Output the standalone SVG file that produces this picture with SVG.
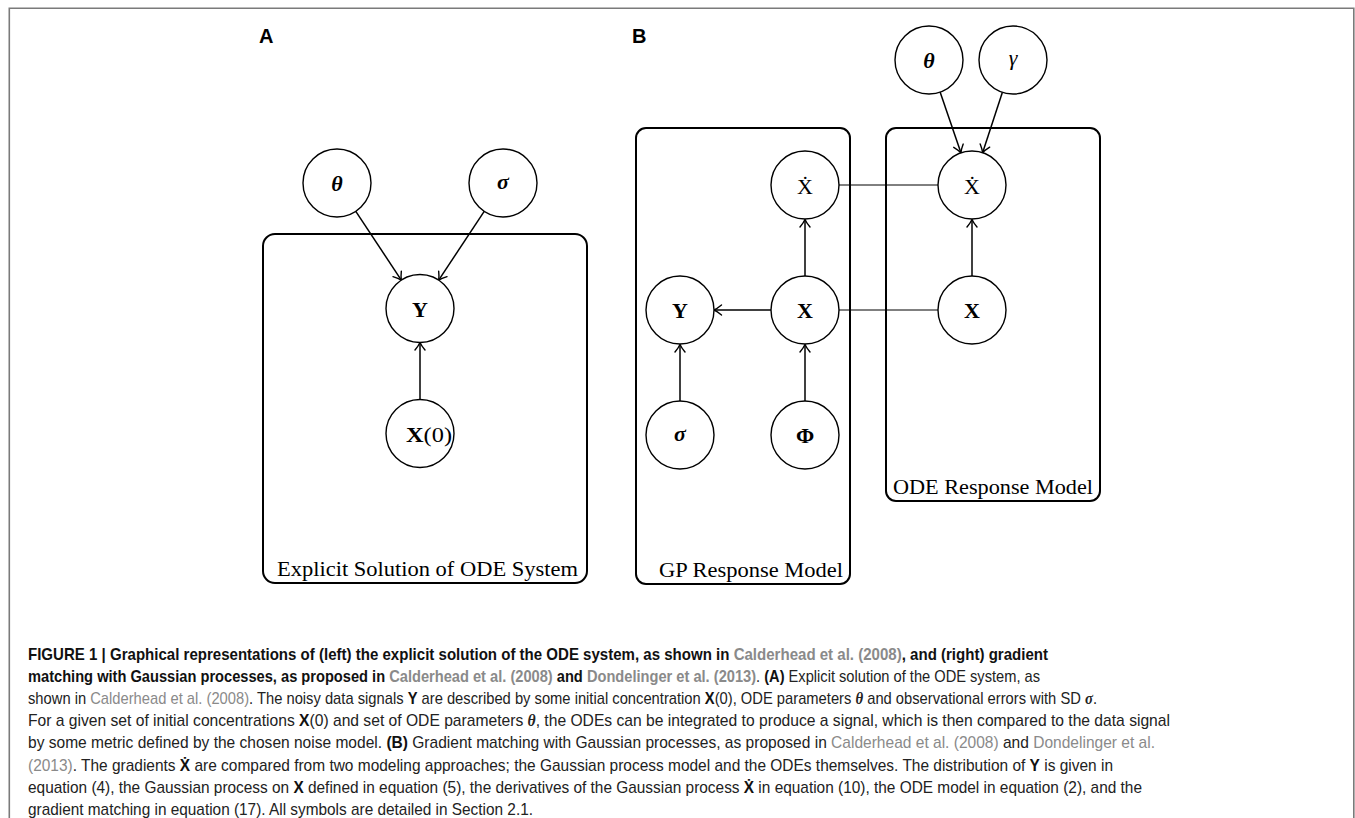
<svg xmlns="http://www.w3.org/2000/svg" width="1355" height="818" viewBox="0 0 1355 818">
<style>
.frame{stroke:#7a7a7a;stroke-width:1.6;fill:none}
.plate{fill:none;stroke:#000;stroke-width:2}
.node{fill:#fff;stroke:#000;stroke-width:1.4}
.edge{stroke:#000;stroke-width:1.5;fill:none}
.link{stroke:#000;stroke-width:1;fill:none}
.lbl{font-family:"Liberation Serif","DejaVu Serif",serif;font-size:22px;text-anchor:middle;fill:#000}
.b{font-weight:bold}
.i{font-style:italic}
.plab{font-family:"Liberation Serif","DejaVu Serif",serif;font-size:21px;fill:#000}
.panel{font-family:"Liberation Sans",Arial,sans-serif;font-size:20px;font-weight:bold;fill:#000}
.cap{font-family:"Liberation Sans",Arial,sans-serif;font-size:17px;fill:#222}
.cb{font-weight:bold;fill:#111}
.cl{fill:#8a8a8a}
.m{font-family:"Liberation Serif","DejaVu Serif",serif;font-weight:bold;font-style:italic}
</style>
<defs>
<marker id="arr" viewBox="-9 -6 11 12" refX="0" refY="0" markerWidth="11" markerHeight="12" markerUnits="userSpaceOnUse" orient="auto">
<path d="M-7.5,-5 Q-3,-1.3 0,0 Q-3,1.3 -7.5,5" fill="none" stroke="#000" stroke-width="1.4" stroke-linecap="round"/>
</marker>
</defs>
<rect width="1355" height="818" fill="#fff"/>
<path class="frame" d="M9.3,818 V8.3 H1353.8 V818"/>

<text class="panel" x="259" y="43">A</text>
<text class="panel" x="632" y="43">B</text>

<g id="plate-explicit">
<rect class="plate" x="263" y="234" width="324" height="349" rx="12"/>
<text class="plab" x="277" y="576" textLength="301" lengthAdjust="spacingAndGlyphs">Explicit Solution of ODE System</text>
</g>
<g id="plate-gp">
<rect class="plate" x="636" y="128" width="214" height="456" rx="10"/>
<text class="plab" x="659" y="577" textLength="184" lengthAdjust="spacingAndGlyphs">GP Response Model</text>
</g>
<g id="plate-ode">
<rect class="plate" x="886" y="128" width="214" height="373" rx="10"/>
<text class="plab" x="893" y="494" textLength="200" lengthAdjust="spacingAndGlyphs">ODE Response Model</text>
</g>

<g id="connectors">
<line class="edge" x1="355.8" y1="211.4" x2="401.3" y2="280.1" marker-end="url(#arr)"/>
<line class="edge" x1="484.2" y1="211.4" x2="438.7" y2="280.1" marker-end="url(#arr)"/>
<line class="edge" x1="420" y1="400" x2="420" y2="342.5" marker-end="url(#arr)"/>
<line class="edge" x1="940.1" y1="92.1" x2="960.9" y2="152.8" marker-end="url(#arr)"/>
<line class="edge" x1="1002.4" y1="92.3" x2="982.6" y2="152.7" marker-end="url(#arr)"/>
<line class="link" x1="839" y1="185" x2="938" y2="185"/>
<line class="link" x1="839" y1="310" x2="938" y2="310"/>
<line class="edge" x1="805" y1="276" x2="805" y2="219.5" marker-end="url(#arr)"/>
<line class="edge" x1="972" y1="276" x2="972" y2="219.5" marker-end="url(#arr)"/>
<line class="edge" x1="771" y1="310" x2="714" y2="310" marker-end="url(#arr)"/>
<line class="edge" x1="680" y1="401" x2="680" y2="344.5" marker-end="url(#arr)"/>
<line class="edge" x1="805" y1="401" x2="805" y2="344.5" marker-end="url(#arr)"/>
</g>

<g id="A-theta"><circle class="node" cx="337" cy="183" r="34"/><text class="lbl b i" x="337" y="191">θ</text></g>
<g id="A-sigma"><circle class="node" cx="503" cy="183" r="34"/><text class="lbl b i" x="503" y="189">σ</text></g>
<g id="A-Y"><circle class="node" cx="420" cy="308.5" r="34"/><text class="lbl b" x="420" y="316.5">Y</text></g>
<g id="A-X0"><circle class="node" cx="420" cy="433.5" r="34"/><text class="lbl" x="429" y="441.5" textLength="46" lengthAdjust="spacingAndGlyphs"><tspan class="b">X</tspan>(0)</text></g>

<g id="B-theta"><circle class="node" cx="929" cy="60" r="34"/><text class="lbl b i" x="929" y="68">θ</text></g>
<g id="B-gamma"><circle class="node" cx="1013" cy="60" r="34"/><text class="lbl i" x="1013" y="65">γ</text></g>
<g id="B-Xdot-gp"><circle class="node" cx="805" cy="185" r="34"/><text class="lbl" x="805" y="193.5">Ẋ</text></g>
<g id="B-Xdot-ode"><circle class="node" cx="972" cy="185" r="34"/><text class="lbl" x="972" y="193.5">Ẋ</text></g>
<g id="B-Y"><circle class="node" cx="680" cy="310" r="34"/><text class="lbl b" x="680" y="318">Y</text></g>
<g id="B-X-gp"><circle class="node" cx="805" cy="310" r="34"/><text class="lbl b" x="805" y="318">X</text></g>
<g id="B-X-ode"><circle class="node" cx="972" cy="310" r="34"/><text class="lbl b" x="972" y="318">X</text></g>
<g id="B-sigma"><circle class="node" cx="680" cy="435" r="34"/><text class="lbl b i" x="680" y="441">σ</text></g>
<g id="B-Phi"><circle class="node" cx="805" cy="435" r="34"/><text class="lbl b" x="805" y="443">Φ</text></g>

<g id="caption">
<text class="cap cb" x="28" y="660" textLength="1020" lengthAdjust="spacingAndGlyphs">FIGURE 1 | Graphical representations of (left) the explicit solution of the ODE system, as shown in <tspan class="cl">Calderhead et al. (2008)</tspan>, and (right) gradient</text>
<text class="cap" x="28" y="682.1" textLength="1012" lengthAdjust="spacingAndGlyphs"><tspan class="cb">matching with Gaussian processes, as proposed in </tspan><tspan class="cb cl">Calderhead et al. (2008)</tspan><tspan class="cb"> and </tspan><tspan class="cb cl">Dondelinger et al. (2013)</tspan>. <tspan class="cb">(A)</tspan> Explicit solution of the ODE system, as</text>
<text class="cap" x="28" y="704.2" textLength="1069" lengthAdjust="spacingAndGlyphs">shown in <tspan class="cl">Calderhead et al. (2008)</tspan>. The noisy data signals <tspan class="cb">Y</tspan> are described by some initial concentration <tspan class="cb">X</tspan>(0), ODE parameters <tspan class="m">θ</tspan> and observational errors with SD <tspan class="m">σ</tspan>.</text>
<text class="cap" x="28" y="726.3" textLength="1142" lengthAdjust="spacingAndGlyphs">For a given set of initial concentrations <tspan class="cb">X</tspan>(0) and set of ODE parameters <tspan class="m">θ</tspan>, the ODEs can be integrated to produce a signal, which is then compared to the data signal</text>
<text class="cap" x="28" y="748.4" textLength="1127" lengthAdjust="spacingAndGlyphs">by some metric defined by the chosen noise model. <tspan class="cb">(B)</tspan> Gradient matching with Gaussian processes, as proposed in <tspan class="cl">Calderhead et al. (2008)</tspan> and <tspan class="cl">Dondelinger et al.</tspan></text>
<text class="cap" x="28" y="770.5" textLength="1085" lengthAdjust="spacingAndGlyphs"><tspan class="cl">(2013)</tspan>. The gradients <tspan class="cb">Ẋ</tspan> are compared from two modeling approaches; the Gaussian process model and the ODEs themselves. The distribution of <tspan class="cb">Y</tspan> is given in</text>
<text class="cap" x="28" y="792.6" textLength="1114" lengthAdjust="spacingAndGlyphs">equation (4), the Gaussian process on <tspan class="cb">X</tspan> defined in equation (5), the derivatives of the Gaussian process <tspan class="cb">Ẋ</tspan> in equation (10), the ODE model in equation (2), and the</text>
<text class="cap" x="28" y="814.5" textLength="505" lengthAdjust="spacingAndGlyphs">gradient matching in equation (17). All symbols are detailed in Section 2.1.</text>
</g>
</svg>
